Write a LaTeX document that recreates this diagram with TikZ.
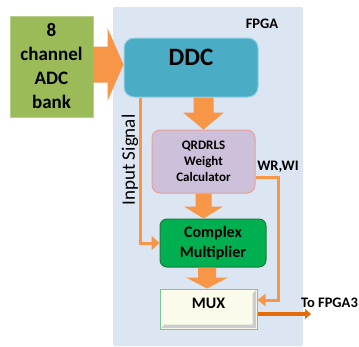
\documentclass[tikz,border=0pt]{standalone}
\usepackage{fontspec}
\setmainfont{Carlito}
\usetikzlibrary{arrows.meta,calc}

\definecolor{adcgreen}{HTML}{9BBB59}
\definecolor{fpgabg}{HTML}{DCE6F2}
\definecolor{ddcblue}{HTML}{4BACC6}
\definecolor{ddcedge}{HTML}{8FD0E3}
\definecolor{flow}{HTML}{F79646}
\definecolor{outflow}{HTML}{E46C0A}
\definecolor{qrfill}{HTML}{CCC0DA}
\definecolor{qredge}{HTML}{E8A09A}
\definecolor{cmfill}{HTML}{00B050}
\definecolor{cmedge}{HTML}{1F7A3A}
\definecolor{muxfill}{HTML}{FAFBEA}
\definecolor{muxedge}{HTML}{7CC49C}

% fat vertical arrow: #1 start, #2 tip, #3 body half width, #4 head half width, #5 head length
\newcommand{\vfat}[5]{%
  \fill[flow] let \p1=(#1), \p2=(#2) in
    (\x2-#3,\y1) -- (\x2+#3,\y1) -- (\x2+#3,\y2+#5) -- (\x2+#4,\y2+#5)
    -- (\x2,\y2) -- (\x2-#4,\y2+#5) -- (\x2-#3,\y2+#5) -- cycle;}

\tikzset{
  blk/.style={inner sep=0pt, align=center, font=\bfseries},
  thinflow/.style={draw=flow, line width=3pt, -{Triangle[length=8pt,width=14pt]}},
}

\begin{document}
\begin{tikzpicture}[x=1pt,y=-1pt]
\useasboundingbox (0,0) rectangle (359,346);

% FPGA region
\fill[fpgabg, rounded corners=2pt] (113,7) rectangle (303,346);
\node[font=\bfseries\fontsize{14.5}{17}\selectfont] (fpga) at (262,24) {FPGA};

% blocks
\node[blk, fill=adcgreen, draw=adcgreen!70!white, minimum width=83pt, minimum height=101pt,
      font=\bfseries\fontsize{19}{24}\selectfont] (adc) at (51.5,66.5) {8\\channel\\ADC\\bank};

\node[blk, fill=ddcblue, draw=ddcedge, line width=1pt, rounded corners=10pt,
      minimum width=134pt, minimum height=59pt,
      label={[font=\bfseries\fontsize{25}{30}\selectfont, yshift=10pt]center:DDC}] (ddc) at (191,67.5) {};

\node[blk, fill=qrfill, draw=qredge, line width=1pt, rounded corners=8pt,
      minimum width=103pt, minimum height=63pt,
      font=\bfseries\fontsize{13}{16}\selectfont] (qr) at (203.5,161.5) {QRDRLS\\Weight\\Calculator};

\node[blk, fill=cmfill, draw=cmedge, line width=1pt, rounded corners=7pt,
      minimum width=106pt, minimum height=48pt,
      font=\bfseries\fontsize{16}{20}\selectfont] (cm) at (213,243) {Complex\\Multiplier};

\node[blk, fill=muxfill, draw=muxedge, line width=1pt,
      minimum width=97pt, minimum height=40pt] (mux) at (208.5,309) {};
% bevel of the MUX button
\fill[gray!40] ($(mux.north east)+(-1.5,1.5)$) -- ($(mux.south east)+(-1.5,-1.5)$)
  -- ($(mux.south west)+(1.5,-1.5)$) -- ($(mux.south west)+(5,-5)$)
  -- ($(mux.south east)+(-5,-5)$) -- ($(mux.north east)+(-5,5)$) -- cycle;
\node[font=\bfseries\fontsize{16}{19}\selectfont] (muxlabel) at ($(mux.center)+(0,-6)$) {MUX};

% fat flow arrows
\fill[flow] let \p1=(adc.east), \p2=($(ddc.west)+(0,-3)$) in
  (\x1,\y2+18pt) -- (\x2-16pt,\y2+18pt) -- (\x2-16pt,\y2+36.5pt) -- (\x2,\y2)
  -- (\x2-16pt,\y2-36.5pt) -- (\x2-16pt,\y2-18pt) -- (\x1,\y2-18pt) -- cycle;
\vfat{ddc.south}{qr.north}{10pt}{20.5pt}{17pt}
\vfat{qr.south}{qr.south |- cm.north}{8pt}{19.5pt}{12pt}
\fill[flow] let \p1=(cm.south), \p2=(mux.north) in
  (207pt-9pt,\y1) -- (207pt+9pt,\y1) -- (207pt+9pt,\y2+11pt) -- (207pt+21pt,\y2+11pt)
  -- (207pt,\y2) -- (207pt-21pt,\y2+11pt) -- (207pt-9pt,\y2+11pt) -- cycle;

% input signal path
\coordinate (insrc) at ($(ddc.south west)+(17,0)$);
\draw[thinflow] (insrc) |- (cm.west);
\node[rotate=90, font=\fontsize{19}{22}\selectfont] (inlabel) at (130,160) {Input Signal};

% weights path
\coordinate (wrout) at ($(qr.east)+(0,15.5)$);
\coordinate (wrin) at ($(mux.east)+(0,-9)$);
\draw[draw=flow, line width=3pt, -{Triangle[length=8pt,width=12pt]}] (wrout) -- ++(23,0) |- (wrin);
\node[font=\bfseries\fontsize{14.5}{17}\selectfont] (wrlabel) at (278,167) {WR,WI};

% output
\coordinate (outsrc) at ($(mux.east)+(0,5)$);
\coordinate (outdst) at (311,314);
\draw[draw=outflow, line width=3.5pt, -{Triangle[length=6pt,width=10pt]}] (outsrc) -- (outdst);
\node[font=\bfseries\fontsize{14.5}{17}\selectfont] (outlabel) at (329.5,303) {To FPGA3};
\end{tikzpicture}
\end{document}
